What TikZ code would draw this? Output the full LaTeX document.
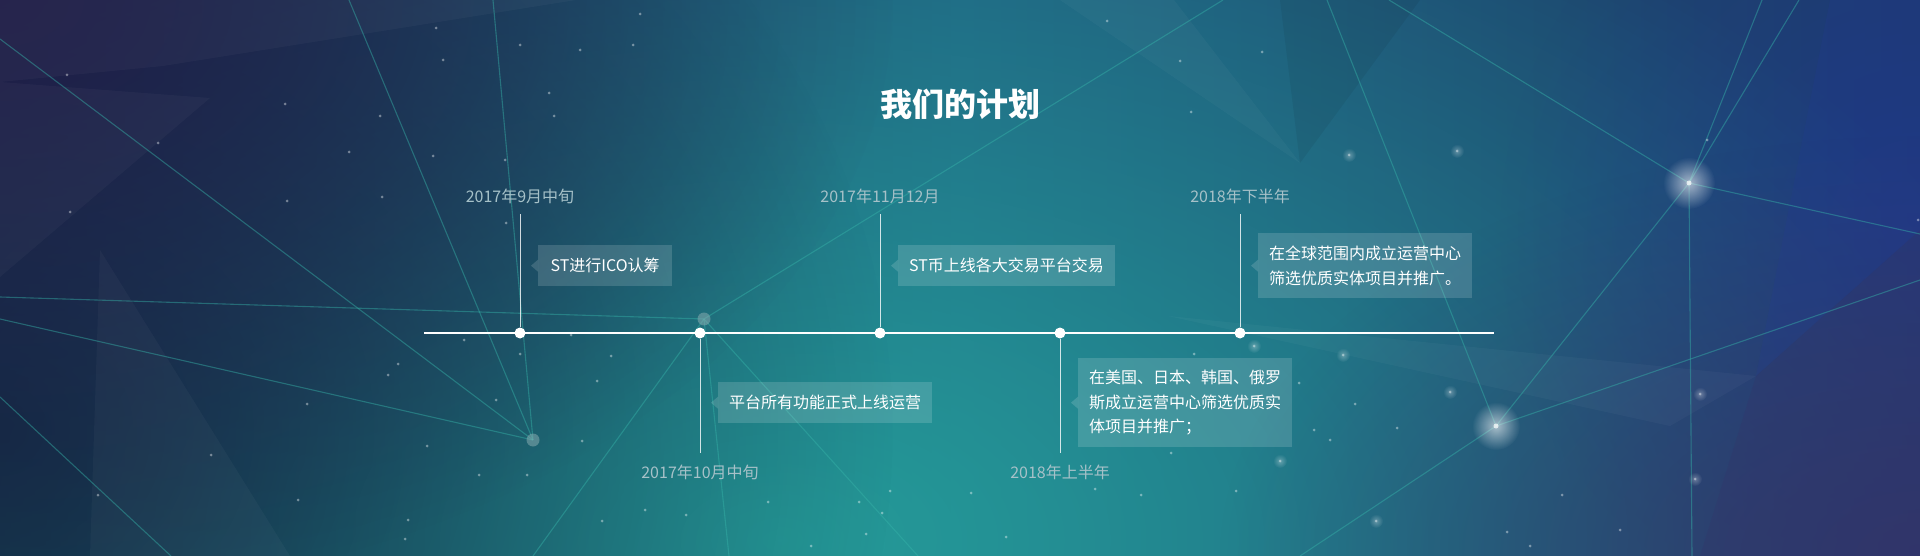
\documentclass[tikz,border=0pt]{standalone}
\usepackage{fontspec}
\newfontfamily\cjk{Noto Sans CJK SC}
\usetikzlibrary{fadings}
\definecolor{bgl}{HTML}{172C4E}
\definecolor{bgm}{HTML}{1F5E80}
\definecolor{bgr}{HTML}{1C3A66}
\definecolor{tealg}{HTML}{25A09B}
\definecolor{purp}{HTML}{211C48}
\definecolor{blueg}{HTML}{23399A}
\definecolor{purpb}{HTML}{33346A}
\definecolor{darkl}{HTML}{12263F}
\definecolor{netc}{HTML}{35B2A8}
\definecolor{datec}{HTML}{A6C1C8}
\definecolor{graynode}{HTML}{8FB0B4}
\tikzfading[name=glowfade, inner color=transparent!0, outer color=transparent!100]
\begin{document}
\begin{tikzpicture}[x=1pt,y=-1pt,
  net/.style={draw=netc, line width=1.1pt, draw opacity=0.45},
  facetlight/.style={fill=white, fill opacity=0.03},
  facetdark/.style={fill=black, fill opacity=0.06},
  star/.style={fill=white, fill opacity=0.4},
  tl/.style={draw=white, line width=1.4pt},
  stem/.style={draw=white, draw opacity=0.8, line width=0.9pt},
  tdot/.style={circle, fill=white, minimum size=11pt, inner sep=0pt},
  datelbl/.style={font=\cjk\fontsize{16}{19}\selectfont, text=datec, inner sep=0pt},
  evbox/.style={fill=white, fill opacity=0.15, text opacity=1, text=white,
    font=\cjk\fontsize{16}{24.5}\selectfont, inner xsep=11pt, inner ysep=0pt,
    align=left, anchor=north west, minimum width=134pt},
  ptr/.style={fill=white, fill opacity=0.15},
  titlef/.style={font=\cjk\bfseries\fontsize{32}{36}\selectfont, text=white, inner sep=0pt}
]
\useasboundingbox (0,0) rectangle (1920,556);
% ---------- background ----------
\shade[left color=bgl, right color=bgr, middle color=bgm] (0,0) rectangle (1920,556);
\begin{scope}
\clip (0,0) rectangle (1920,556);
\fill[tealg, path fading=glowfade, fill opacity=0.95] (780,540) ellipse (1300 and 760);
\fill[darkl, path fading=glowfade, fill opacity=0.85] (0,430) ellipse (900 and 800);
\fill[purp, path fading=glowfade, fill opacity=0.9] (0,0) ellipse (900 and 600);
\fill[blueg, path fading=glowfade, fill opacity=0.55] (1920,230) ellipse (420 and 420);
\fill[purpb, path fading=glowfade, fill opacity=0.9] (1920,556) ellipse (700 and 420);
% facets
\coordinate (fc) at (1300,163);
\fill[facetlight] (0,0) -- (420,0) -- (420,25) -- (163,66) -- (0,82) -- cycle;
\fill[facetlight] (0,82) -- (210,98) -- (0,277) -- cycle;
\fill[facetlight] (420,0) -- (576,0) -- (420,25) -- cycle;
\fill[facetlight] (fc) -- (1174,0) -- (1060,0) -- cycle;
\fill[facetdark] (fc) -- (1280,0) -- (1420,0) -- cycle;
\fill[facetlight] (1168,316) -- (1756,376) -- (1670,426) -- cycle;
\fill[blueg, fill opacity=0.18] (1756,376) -- (1920,230) -- (1920,0) -- (1830,0) -- cycle;
\fill[purpb, fill opacity=0.3] (1756,376) -- (1920,230) -- (1920,556) -- (1700,556) -- cycle;
\fill[facetlight] (100,250) -- (290,556) -- (90,556) -- cycle;
% network
\coordinate (na) at (533,440);
\coordinate (nb) at (704,319);
\coordinate (g1) at (1689,183);
\coordinate (g2) at (1496,426);
\draw[net] (0,39) -- (na);
\draw[net] (349,0) -- (na);
\draw[net] (493,0) -- (na);
\draw[net] (0,319) -- (na);
\draw[net] (0,297) -- (nb);
\draw[net] (nb) -- (729,556);
\draw[net] (nb) -- (533,556);
\draw[net] (nb) -- (918,556);
\draw[net] (nb) -- (1223,0);
\draw[net] (0,397) -- (171,556);
\draw[net] (1389,0) -- (g1);
\draw[net] (g1) -- (1920,234);
\draw[net] (g1) -- (1762,0);
\draw[net] (g1) -- (1799,0);
\draw[net] (g1) -- (g2);
\draw[net] (g1) -- (1692,556);
\draw[net] (g2) -- (1920,280);
\draw[net] (g2) -- (1300,556);
\draw[net] (1327,0) -- (g2);
\fill[graynode, fill opacity=0.5] (na) circle (6.5);
\fill[graynode, fill opacity=0.5] (nb) circle (6.5);
\fill[white, path fading=glowfade, fill opacity=0.6] (g1) circle (26);
\fill[white, fill opacity=0.7] (g1) circle (2.5);
\fill[white, path fading=glowfade, fill opacity=0.6] (g2) circle (24);
\fill[white, fill opacity=0.7] (g2) circle (2.5);
% stars
\foreach \p in {(436,28),(640,14),(520,45),(580,50),(633,45),(443,60),(67,75),(285,104),(380,116),(554,116),(549,93),(158,143),(349,152),(433,156),(505,160),(382,197),(287,201),(70,212),(506,223),(464,340),(571,335),(611,356),(398,364),(520,354),(388,375),(597,381),(307,404),(496,400),(582,441),(427,446),(479,475),(527,475),(211,455),(645,510),(408,520),(405,539),(602,521),(686,515),(768,502),(882,513),(866,534),(811,546),(859,502),(890,491),(98,495),(298,500),(1107,21),(1262,52),(1180,61),(1191,112),(1349,155),(1457,151),(1707,140),(1254,346),(1194,354),(1343,355),(1299,383),(1450,392),(1355,404),(1700,394),(1280,461),(1330,440),(1397,428),(1314,430),(1171,453),(1236,491),(1376,521),(1507,532),(1620,530),(1695,479),(1562,495),(1095,489),(1141,495),(971,493),(1006,537),(1530,546),(1918,220)}
  \fill[star] \p circle (1.5);
\foreach \p in {(1349,155),(1457,151),(1343,355),(1280,461),(1376,521),(1450,392),(1254,346),(1700,394),(1695,479)}
  \fill[white, path fading=glowfade, fill opacity=0.3] \p circle (7);
\end{scope}
% ---------- title ----------
\node[titlef] (title) at (960,104) {我们的计划};
% ---------- timeline ----------
\coordinate (ls) at (424,333);
\coordinate (le) at (1494,333);
\draw[tl] (ls) -- (le);
\node[tdot] (d1) at (520,333) {};
\node[tdot] (d2) at (700,333) {};
\node[tdot] (d3) at (880,333) {};
\node[tdot] (d4) at (1060,333) {};
\node[tdot] (d5) at (1240,333) {};
\coordinate (u1) at (520,214);
\coordinate (u3) at (880,214);
\coordinate (u5) at (1240,214);
\coordinate (w2) at (700,453);
\coordinate (w4) at (1060,453);
\draw[stem] (d1) -- (u1);
\draw[stem] (d3) -- (u3);
\draw[stem] (d5) -- (u5);
\draw[stem] (d2) -- (w2);
\draw[stem] (d4) -- (w4);
% dates
\node[datelbl] (t1) at (520,196) {2017年9月中旬};
\node[datelbl] (t3) at (880,196) {2017年11月12月};
\node[datelbl] (t5) at (1240,196) {2018年下半年};
\node[datelbl] (t2) at (700,472) {2017年10月中旬};
\node[datelbl] (t4) at (1060,472) {2018年上半年};
% boxes
\node[evbox, minimum height=41pt] (b1) at (538,245) {ST进行ICO认筹};
\node[evbox, minimum height=41pt] (b2) at (898,245) {ST币上线各大交易平台交易};
\node[evbox, minimum height=65pt] (b3) at (1258,233) {在全球范围内成立运营中心\\筛选优质实体项目并推广。};
\node[evbox, minimum height=41pt] (b4) at (718,382) {平台所有功能正式上线运营};
\node[evbox, minimum height=89pt] (b5) at (1078,358) {在美国、日本、韩国、俄罗\\斯成立运营中心筛选优质实\\体项目并推广；};
\foreach \b in {b1,b2,b3,b4,b5}
  \fill[ptr] ([yshift=6pt]\b.west) -- ([xshift=-7pt]\b.west) -- ([yshift=-6pt]\b.west) -- cycle;
\end{tikzpicture}
\end{document}
